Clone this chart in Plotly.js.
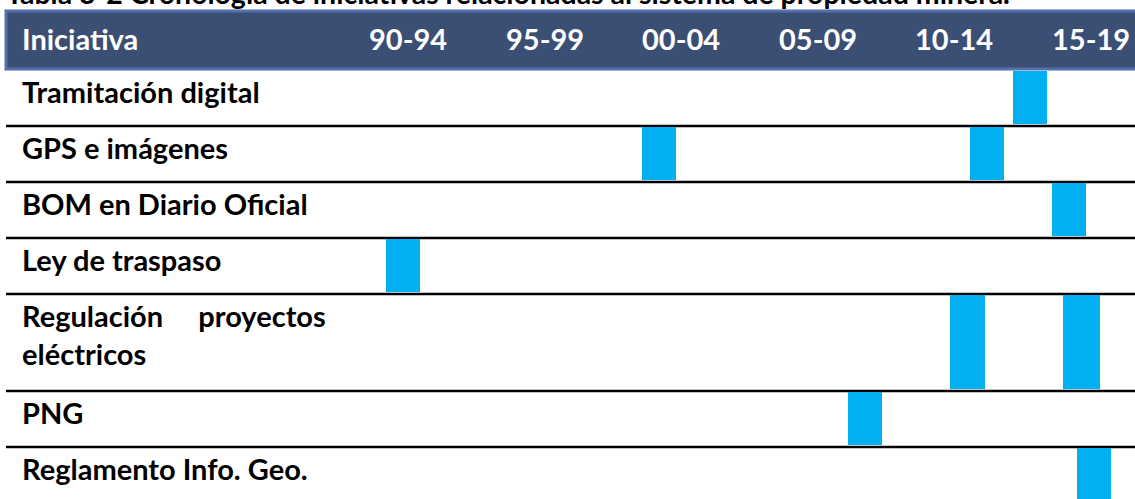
<!DOCTYPE html>
<html>
<head>
<meta charset="utf-8">
<script src="https://cdn.plot.ly/plotly-3.0.1.min.js"></script>
<style>html,body{margin:0;padding:0;background:#fff;}#chart{width:1135px;height:499px;}</style>
</head>
<body>
<div id="chart"></div>
<script>
// ---- data ----
const titleText = "Tabla 3-2 Cronología de iniciativas relacionadas al sistema de propiedad minera.";
const headerLabel = "Iniciativa";
const initiatives = ["Tramitación digital", "GPS e imágenes", "BOM en Diario Oficial", "Ley de traspaso", "Regulación proyectos eléctricos", "PNG", "Reglamento Info. Geo."];
const labelLines = [1, 1, 1, 1, 2, 1, 1];
const periods = ["90-94", "95-99", "00-04", "05-09", "10-14", "15-19"];
const periodStart = [1990, 1995, 2000, 2005, 2010, 2015];
const periodLength = 5;
const barRow = [0, 1, 1, 2, 3, 4, 4, 5, 6];
const barStart = [2014.65, 2001.07, 2013.07, 2016.07, 1991.69, 2012.34, 2016.47, 2008.61, 2016.99];
const barEnd = [2015.89, 2002.31, 2014.32, 2017.32, 1992.94, 2013.62, 2017.83, 2009.85, 2018.23];

// ---- layout helpers ----
const W = 1135, H = 499;
const headerTop = 11, headerBottom = 70;
const rowTop = [];
const rowH = [];
let acc = headerBottom;
labelLines.forEach(n => { rowTop.push(acc); const h = 15 + 41 * n; rowH.push(h); acc += h; });

const font = "Lato, 'Open Sans', sans-serif";
const fs = 29;

const bars = {
  type: "bar", orientation: "h",
  y: barRow.map(r => rowTop[r] + rowH[r] / 2 - 0.5),
  base: barStart,
  x: barStart.map((s, i) => barEnd[i] - s),
  width: barRow.map(r => rowH[r] - 3),
  marker: {color: "#00B0F0", line: {width: 0}},
  hoverinfo: "skip", showlegend: false
};

function displayLabel(s, n) {
  if (n < 2) return s;
  const w = s.split(" ");
  return w[0] + "\u00A0\u00A0\u00A0\u00A0\u00A0" + w[1] + "<br>" + w.slice(2).join(" ");
}

const annotations = [];
annotations.push({xref: "paper", yref: "paper", x: 4 / W, y: 1 + 7 / H, xanchor: "left", yanchor: "middle",
  text: "<b>" + titleText + "</b>", showarrow: false, font: {family: font, size: 28.5, color: "#000"}});
annotations.push({xref: "paper", yref: "y", x: 20 / W, y: (headerTop + headerBottom) / 2 - 2, xanchor: "left", yanchor: "middle",
  text: "<b>" + headerLabel + "</b>", showarrow: false, font: {family: font, size: fs, color: "#fff"}});
periods.forEach((p, i) => annotations.push({xref: "x", yref: "y", x: periodStart[i] + periodLength / 2, y: (headerTop + headerBottom) / 2 - 2,
  xanchor: "center", yanchor: "middle", text: "<b>" + p + "</b>", showarrow: false, font: {family: font, size: fs, color: "#fff"}}));
initiatives.forEach((s, i) => annotations.push({xref: "paper", yref: "y", x: 20 / W, y: rowTop[i] + 21 + (labelLines[i] - 1) * 19,
  xanchor: "left", yanchor: "middle",
  text: "<b>" + displayLabel(s, labelLines[i]) + "</b>", showarrow: false, align: "left",
  font: {family: font, size: fs, color: "#000"}}));

const shapes = [];
shapes.push({type: "rect", xref: "paper", yref: "y", x0: 6 / W, x1: 1.01, y0: headerTop, y1: headerBottom - 1,
  fillcolor: "#3B4E73", line: {color: "#5471AB", width: 3}, layer: "below"});
for (let i = 0; i < initiatives.length - 1; i++) {
  const yb = rowTop[i] + rowH[i];
  shapes.push({type: "line", xref: "paper", yref: "y", x0: 6 / W, x1: 1, y0: yb, y1: yb, line: {color: "#000", width: 2.5}, layer: "below"});
}

// x axis scale: 1990 sits at px 339.7, 27.32 px per year
const pxPerYear = 27.32, x1990 = 339.7;
const layout = {
  width: W, height: H,
  margin: {l: 0, r: 0, t: 0, b: 0, pad: 0},
  paper_bgcolor: "#fff", plot_bgcolor: "rgba(0,0,0,0)",
  xaxis: {range: [1990 - x1990 / pxPerYear, 1990 + (W - x1990) / pxPerYear], visible: false, fixedrange: true},
  yaxis: {range: [H, 0], visible: false, fixedrange: true},
  bargap: 0, barmode: "overlay",
  shapes: shapes, annotations: annotations
};
Plotly.newPlot("chart", [bars], layout, {displayModeBar: false, staticPlot: true});
</script>
</body>
</html>
